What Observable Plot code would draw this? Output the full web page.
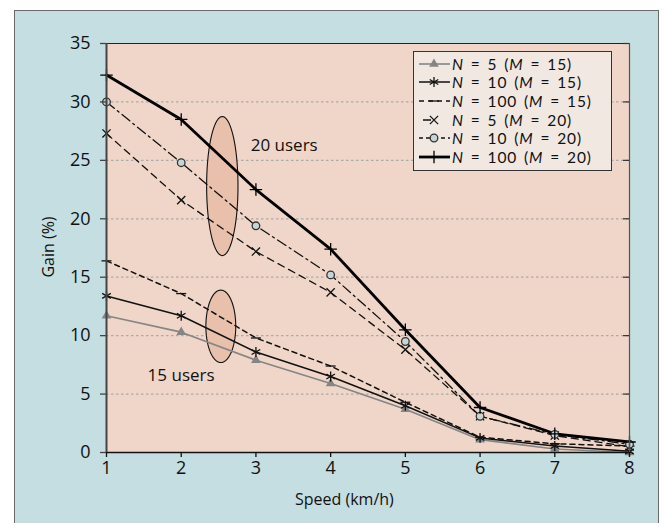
<!DOCTYPE html>
<html>
<head>
<meta charset="utf-8">
<script src="https://cdn.jsdelivr.net/npm/d3@7"></script>
<script src="https://cdn.jsdelivr.net/npm/@observablehq/plot@0.6"></script>
<style>
  html, body { margin: 0; padding: 0; background: #ffffff; width: 664px; height: 523px; overflow: hidden; }
  #panel { position: absolute; left: 14px; top: 10px; width: 645px; height: 530px; background: #c5dee2; border: 1.5px solid #6a6a6a; box-sizing: border-box; }
  #chart { position: absolute; left: 0; top: 0; }
  #legend { position: absolute; left: 413px; top: 51px; width: 199px; height: 120px; box-sizing: border-box;
            background: #f1e8e2; border: 1.2px solid #333; font-family: Lato, sans-serif; font-size: 15.5px; color: #111; }
  .row { position: absolute; left: 4px; height: 18px; line-height: 18px; display: flex; align-items: center; white-space: nowrap; }
  .row svg { flex: none; }
  .row span { margin-left: 2px; letter-spacing: 0.9px; word-spacing: 2px; line-height: 18px; }
  .lbl { position: absolute; font-family: "Open Sans", sans-serif; font-size: 16px; color: #111; white-space: nowrap; line-height: 18px; }
</style>
</head>
<body>
<div id="panel"></div>
<div id="chart"></div>
<div id="legend"></div>
<div class="lbl" id="xlab" style="left:295px; top:490px;">Speed (km/h)</div>
<div class="lbl" id="ylab" style="left:48px; top:247px; transform: translate(-50%,-50%) rotate(-90deg);">Gain (%)</div>
<script>
// ---- data ----
const speeds = [1, 2, 3, 4, 5, 6, 7, 8];
const n5m15   = [11.7, 10.3, 7.9, 5.9, 3.7, 1.1, 0.3, 0.0];
const n10m15  = [13.4, 11.7, 8.6, 6.5, 4.0, 1.25, 0.55, 0.1];
const n100m15 = [16.4, 13.6, 9.8, 7.4, 4.3, 1.3, 0.75, 0.55];
const n5m20   = [27.3, 21.6, 17.2, 13.7, 8.8, 3.1, 1.45, 0.5];
const n10m20  = [30.0, 24.8, 19.4, 15.2, 9.5, 3.1, 1.55, 0.7];
const n100m20 = [32.3, 28.5, 22.5, 17.4, 10.5, 3.85, 1.6, 0.9];
const yTicks = [0, 5, 10, 15, 20, 25, 30, 35];
const gridTicks = [5, 10, 15, 20, 25, 30];
// ellipse annotations: [cx, cy, rx, ry]
const ellipses = [[2.55, 22.8, 0.21, 5.95], [2.53, 10.8, 0.2, 3.1]];
const notes = [{x: 2.93, y: 26.3, t: "20 users"}, {x: 1.55, y: 6.6, t: "15 users"}];

const dashSym = { draw(ctx, size) { const r = Math.sqrt(size / Math.PI) * 1.25; ctx.moveTo(-r, 0); ctx.lineTo(r, 0); } };

const series = [
  {vals: n5m15,   n: "5",   m: "15", stroke: "#858585", width: 1.6, dash: null,        symbol: "triangle", r: 3.6, fill: "#858585", sstroke: "none"},
  {vals: n10m15,  n: "10",  m: "15", stroke: "#111",    width: 1.5, dash: null,        symbol: "asterisk", r: 4.7, fill: "none",    sstroke: "#111"},
  {vals: n100m15, n: "100", m: "15", stroke: "#111",    width: 1.5, dash: "5,4",       symbol: dashSym,    r: 4.0, fill: "none",    sstroke: "#111"},
  {vals: n5m20,   n: "5",   m: "20", stroke: "#111",    width: 1.3, dash: "7,5",       symbol: "times",    r: 3.8, fill: "none",    sstroke: "#111"},
  {vals: n10m20,  n: "10",  m: "20", stroke: "#111",    width: 1.3, dash: "10,4,2,4",  symbol: "circle",   r: 3.8, fill: "#c8d4d6", sstroke: "#333"},
  {vals: n100m20, n: "100", m: "20", stroke: "#000",    width: 2.8, dash: null,        symbol: "plus",     r: 4.1, fill: "none",    sstroke: "#000"}
];

const tables = series.map(s => speeds.map((x, i) => ({x, y: s.vals[i]})));

const ellipsePts = ellipses.map(([cx, cy, rx, ry]) =>
  d3.range(0, 73).map(k => { const a = k / 72 * 2 * Math.PI; return {x: cx + rx * Math.cos(a), y: cy + ry * Math.sin(a)}; }));

const marks = [
  Plot.frame({fill: "#f0d6c8", stroke: null}),
  Plot.gridY(gridTicks, {stroke: "#aaaaaa", strokeOpacity: 1, strokeWidth: 1.2, strokeDasharray: "2.5,2.5"}),
  ...ellipsePts.map(pts => Plot.line(pts, {x: "x", y: "y", fill: "#e8c0ab", stroke: "#111", strokeWidth: 1.1, curve: "linear-closed"})),
  ...series.map((s, i) => Plot.line(tables[i], {x: "x", y: "y", stroke: s.stroke, strokeWidth: s.width, strokeDasharray: s.dash})),
  ...series.map((s, i) => Plot.dot(tables[i], {x: "x", y: "y", symbol: s.symbol, r: s.r, fill: s.fill, stroke: s.sstroke, strokeWidth: 1.3})),
  Plot.text(notes, {x: "x", y: "y", text: "t", textAnchor: "start", fontSize: 17, fill: "#111"}),
  Plot.ruleY([35], {stroke: "#222", strokeWidth: 1.2}),
  Plot.ruleX([8], {stroke: "#555", strokeWidth: 1.2}),
  Plot.tickY(gridTicks.concat([35]), {y: d => d, insetLeft: 517, stroke: "#333", strokeWidth: 1.2}),
  Plot.ruleY([0], {stroke: "#111", strokeWidth: 1.6}),
  Plot.ruleX([1], {stroke: "#444", strokeWidth: 2}),
  Plot.axisY({ticks: yTicks, tickSize: 6, tickPadding: 10, tickFormat: "d", label: null, fontSize: 18, stroke: "#444", strokeWidth: 1.3, fill: "#111"}),
  Plot.axisX({ticks: speeds, tickSize: 5, tickPadding: 4, tickFormat: "d", label: null, fontSize: 18, stroke: "#111", strokeWidth: 1.3, fill: "#111"})
];

const chart = Plot.plot({
  width: 664, height: 523,
  marginLeft: 106, marginRight: 35, marginTop: 43, marginBottom: 71,
  x: {domain: [1, 8]},
  y: {domain: [0, 35]},
  style: {background: "transparent", fontFamily: "Open Sans, sans-serif", overflow: "visible", color: "#111"},
  marks
});
document.getElementById("chart").appendChild(chart);

// legend
const leg = d3.select("#legend");
series.forEach((s, i) => {
  const row = leg.append("div").attr("class", "row").style("top", (2.5 + i * 18.7) + "px");
  const sv = row.append("svg").attr("width", 32).attr("height", 18);
  sv.append("line").attr("x1", 1).attr("x2", 32).attr("y1", 9).attr("y2", 9)
    .attr("stroke", s.stroke).attr("stroke-width", s.width).attr("stroke-dasharray", s.dash ? (i === 4 ? "4,3,12,3" : i === 3 ? "0,4,8,20" : "5,4") : null);
  const symType = typeof s.symbol === "string"
    ? {triangle: d3.symbolTriangle, asterisk: d3.symbolAsterisk, times: d3.symbolTimes, circle: d3.symbolCircle, plus: d3.symbolPlus}[s.symbol]
    : s.symbol;
  sv.append("path").attr("transform", "translate(16,9)")
    .attr("d", d3.symbol(symType, Math.PI * s.r * s.r)())
    .attr("fill", s.fill).attr("stroke", s.sstroke).attr("stroke-width", 1.3);
  row.append("span").html(`<i>N</i> = ${s.n} (<i>M</i> = ${s.m})`);
});
</script>
</body>
</html>
